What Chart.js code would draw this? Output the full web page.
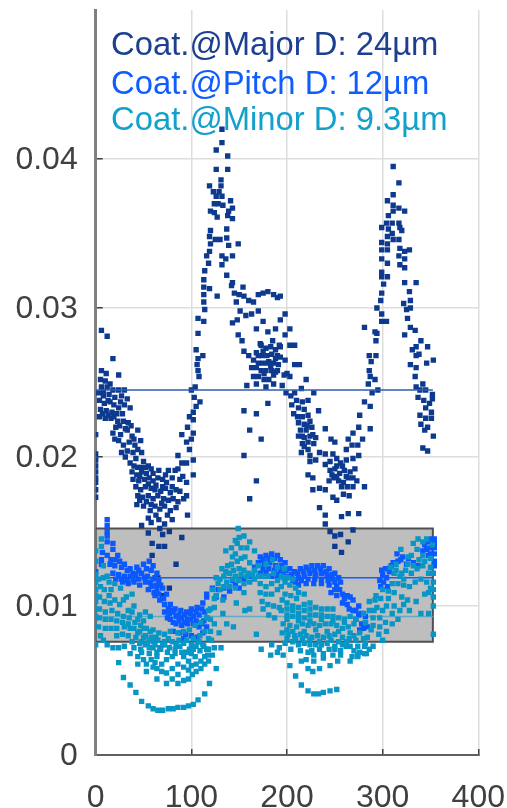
<!DOCTYPE html>
<html>
<head>
<meta charset="utf-8">
<title>Coating scatter</title>
<script src="https://cdn.jsdelivr.net/npm/chart.js@4/dist/chart.umd.min.js"></script>
<style>
    html, body { margin: 0; background: #ffffff; }
    canvas { display: block; filter: blur(0.5px); }
</style>
</head>
<body>
<canvas id="canvas" width="507" height="808"></canvas>
<script>
const xTicks = [0, 100, 200, 300, 400];
const yTicks = [0, 0.01, 0.02, 0.03, 0.04];
const legendLabels = ['Coat.@Major D: 24µm', 'Coat.@Pitch D: 12µm', 'Coat.@Minor D: 9.3µm'];

// band limits and mean levels
const bandEnd = 352.5;
const bandLow = 0.0076;
const bandHigh = 0.0152;
const meanMajor = 0.0245;
const meanPitch = 0.0119;
const meanMinor = 0.0093;

const majorPoints = [
    [0,.0215],[0,.0202],[0,.0198],[0,.0194],[0,.019],[0,.0186],[0,.0183],[0,.0178],[0,.0173],
    [6,.0285],[12,.0281],[18,.0266],[6,.0258],[11,.0256],[24,.0255],[5,.0252],[10,.0251],[15,.0249],[6,.0247],[12,.0247],[18,.0245],[24,.0245],[30,.0245],
    [3,.0243],[8,.0241],[14,.0242],[20,.024],[27,.0241],[33,.0239],[4,.0238],[9,.0236],[15,.0237],[24,.0233],[30,.0235],[36,.0233],
    [5,.0232],[11,.0231],[17,.023],[22,.0229],[28,.0229],[4,.0227],[10,.0226],[16,.0226],[23,.0224],[29,.0224],[34,.0223],
    [18,.0216],[21,.022],[26,.0215],[33,.0218],[38,.0214],[44,.0218],[20,.0212],[29,.0208],[35,.021],[41,.0208],[47,.0211],[48,.0203],
    [27,.0203],[31,.02],[36,.0196],[42,.0199],[44,.0193],[50,.0197],[55,.0194],[38,.019],[43,.0188],[48,.019],[53,.0189],[58,.0192],
    [39,.0185],[45,.0184],[51,.0185],[56,.0186],[60,.0184],[65,.0186],[70,.0185],[76,.0191],[80,.0186],[70,.018],
    [42,.018],[47,.0178],[52,.018],[58,.0179],[63,.0181],[68,.0177],[73,.0179],[78,.0176],[84,.0178],[88,.0177],
    [44,.0174],[49,.0173],[55,.0174],[60,.0172],[65,.0174],[71,.0172],[76,.0171],[81,.0172],[86,.017],[92,.0172],
    [43,.0168],[50,.0167],[57,.0164],[62,.0167],[67,.0165],[72,.0167],[78,.0164],[84,.0166],[95,.0174],[96,.0161],
    [58,.0156],[48,.0154],[66,.0158],[67,.0152],[72,.0155],[77,.015],[80,.0158],[55,.0149],[90,.0146],[59,.0142],[66,.014],[72,.014],[59,.0134],[84,.0128],[65,.0119],[77,.0112],[70,.0107],
    [86,.0201],[90,.0196],[86,.0192],[91,.0187],[95,.0196],[102,.0198],[102,.0188],[88,.0185],[95,.0183],[98,.0205],
    [90,.0215],[95,.021],[100,.0212],[102,.0216],[96,.022],[102,.0225],[98,.0227],[105,.0234],[109,.0237],[102,.023],[103,.024],
    [104,.0247],[100,.0245],[108,.0254],[107,.0258],[106,.0262],[107,.0266],[112,.0268],[105,.0272],[107,.0283],[107,.0293],[113,.0291],
    [114,.0299],[113,.0304],[113,.0309],[113,.0314],[119,.0313],[113,.0319],[114,.0325],[116,.0335],[119,.0338],[120,.0343],[118,.033],
    [119,.0348],[120,.0352],[125,.0346],[130,.0346],[137,.0353],[137,.0347],[139,.0342],[149,.0343],
    [119,.0382],[123,.0378],[126,.0375],[129,.0378],[132,.0375],[124,.037],[128,.037],[133,.0369],[120,.0365],[124,.0364],[127,.0361],[138,.0362],[141,.0372],[143,.0367],[139,.0365],[143,.036],
    [131,.0382],[131,.0386],[126,.0393],[138,.0393],[126,.0406],[138,.0402],[132,.0411],[132,.042],
    [132,.0335],[143,.0335],[136,.0333],[132,.0329],[137,.0322],[143,.0317],[154,.0314],[142,.0315],[127,.0308],[145,.031],
    [150,.0309],[155,.0308],[147,.0304],[151,.0298],[157,.0295],[148,.0292],[143,.029],[149,.0282],[153,.0278],[155,.0271],[160,.0305],[165,.0304],[170,.0309],[175,.031],[180,.0311],[186,.0309],[190,.0307],
    [163,.0296],[170,.0298],[175,.0291],[180,.0284],[188,.0286],[168,.0286],[172,.0276],[160,.0268],[165,.0265],[168,.027],
    [173,.0275],[178,.0273],[183,.0274],[188,.0272],[192,.0275],[174,.0268],[179,.0268],[184,.0269],[190,.0268],[170,.0263],[175,.0263],[181,.0264],[186,.0263],[191,.0262],
    [163,.026],[168,.026],[173,.0258],[178,.0258],[184,.0258],[188,.0257],[165,.0254],[170,.0254],[176,.0252],[181,.0252],[178,.0247],[186,.0249],[168,.0249],[158,.0248],
    [155,.0231],[168,.0229],[161,.0218],[173,.0212],[155,.0201],[168,.0184],[161,.0172],[180,.0236],
    [193,.0308],[198,.0296],[193,.0292],[203,.0286],[198,.0282],[193,.0274],[203,.0275],[208,.0275],[193,.0267],[198,.0265],[208,.0262],[213,.0262],[200,.0256],[203,.0254],[220,.0252],[215,.0246],[228,.0243],[208,.0243],
    [195,.0248],[199,.0243],[204,.0241],[210,.0238],[216,.0237],[222,.0238],[205,.0235],[212,.0233],[218,.0232],[207,.0229],[233,.0231],[211,.0227],[216,.0227],[222,.0228],[212,.0223],[218,.0222],[224,.0224],
    [214,.0218],[220,.0218],[226,.022],[212,.0214],[218,.0213],[224,.0214],[230,.0213],[216,.0209],[222,.021],[228,.0209],[240,.0219],[246,.0212],[250,.021],
    [215,.0203],[222,.0205],[234,.0203],[240,.0202],[248,.0202],[252,.0199],[224,.0197],[230,.0198],[245,.0197],[262,.0198],[258,.0194],
    [222,.0188],[227,.0186],[240,.0195],[245,.0191],[250,.0192],[255,.0189],[260,.0191],[266,.019],[269,.0186],[249,.0186],[254,.0184],[259,.0183],[264,.0186],
    [234,.0179],[227,.0178],[240,.0178],[248,.0173],[252,.0171],[259,.0175],[265,.0174],[269,.018],[281,.018],[234,.0166],[240,.0161],[240,.0155],[257,.016],[264,.0162],[275,.0162],
    [245,.015],[250,.0147],[256,.0148],[269,.0151],[264,.0143],[250,.014],[257,.0136],
    [287,.0234],[276,.0228],[281,.0237],[287,.0219],[275,.022],[269,.0216],[279,.0212],[264,.0212],[274,.0208],[262,.0205],[275,.0201],[269,.0199],[268,.0208],
    [289,.0243],[285,.0249],[287,.0254],[286,.0258],[288,.0264],[292,.0252],[295,.0245],[286,.0268],[293,.0268],[292,.0284],[293,.0278],[281,.0287],[294,.0283],
    [299,.0291],[299,.0296],[304,.0291],[294,.03],[298,.0305],[299,.031],[301,.0316],[299,.0321],[305,.0321],[299,.0324],[305,.033],[299,.0333],[305,.0339],
    [299,.0344],[305,.0343],[299,.0339],[305,.0348],[311,.0346],[306,.0353],[310,.035],[299,.0354],[304,.0357],[310,.0357],[306,.0362],[311,.0365],[305,.0372],[311,.0376],[311,.0369],[317,.0384],[311,.0395],
    [317,.0367],[323,.0365],[317,.0357],[318,.0354],[320,.0352],[317,.0346],[318,.034],[323,.0338],[328,.0339],[323,.0333],[317,.0335],[323,.0327],[318,.0329],
    [323,.0317],[328,.0311],[335,.0317],[329,.0305],[322,.0303],[325,.0299],[329,.03],[326,.0293],[329,.0287],[323,.0282],[334,.0285],[340,.0278],[335,.0274],[347,.0274],
    [331,.0272],[335,.0268],[338,.0269],[346,.0263],[353,.0265],[329,.0262],[335,.026],[334,.0254],[342,.0249],[335,.0247],[339,.0245],[345,.0245],[352,.0242],
    [337,.024],[343,.0238],[349,.0236],[352,.0239],[345,.0233],[351,.023],[339,.0228],[345,.0226],[351,.0226],[340,.0222],[347,.022],[353,.0214],[342,.0206],[347,.0204],[344,.0218],
    [8,.0244],[13,.0238],[19,.0235],[26,.0237],[7,.0229],[13,.0228],[19,.0227],[25,.0221],[31,.0219],[37,.0221],[40,.0212],[24,.0211],[33,.0204],[39,.0203],[44,.0205],
    [40,.0194],[47,.0193],[52,.0193],[60,.0189],[66,.0191],[73,.0188],[83,.0191],[46,.0187],[55,.0182],[62,.0178],[74,.0183],[80,.018],[46,.0171],[53,.017],[58,.0168],[69,.0169],[75,.0161],[63,.0161],[55,.0159],[70,.0148],
    [197,.0255],[190,.0258],[186,.0255],[175,.0271],[180,.0263],[185,.0278],[170,.0268],[176,.0256],[183,.0261],[188,.0266],
    [216,.0214],[221,.0221],[227,.0215],[218,.0207],[224,.0201],[252,.0194],[247,.0188],[256,.0196],[262,.0187],[244,.0184],[252,.0187],[257,.018],[263,.018],[271,.0192],[273,.0184]
];

const pitchPoints = [
    [0,.0123],[0,.0118],[12,.0158],[12,.0154],[12,.015],[12,.0147],[12,.0143],[7,.0136],[18,.0142],[18,.0138],[6,.0131],[12,.0134],[6,.0128],[23,.0134],[25,.013],[16,.0131],
    [20,.0127],[27,.0126],[30,.0128],[36,.0125],[43,.0126],[50,.0128],[56,.013],[60,.0127],[64,.0122],
    [18,.0122],[24,.0121],[30,.012],[36,.012],[42,.0121],[48,.0122],[54,.012],[60,.0118],[66,.0117],
    [28,.0116],[34,.0115],[40,.0116],[46,.0114],[52,.0116],[58,.0113],[64,.0111],[70,.0112],[74,.0108],
    [62,.0107],[67,.0104],[72,.0101],[78,.0101],[72,.0096],[77,.0095],[83,.0098],[89,.0097],[95,.0096],[100,.0098],[106,.0099],[112,.0102],[116,.0106],
    [78,.0091],[84,.0093],[90,.0092],[96,.0091],[102,.0093],[108,.0094],[114,.0096],[84,.0088],[90,.0087],[96,.0088],[102,.0088],[108,.0086],[113,.009],
    [81,.0083],[88,.0082],[94,.0081],[100,.008],[106,.0079],[112,.0082],[116,.0086],[92,.0078],[104,.0078],
    [116,.0108],[122,.0112],[128,.0111],[134,.0112],[140,.011],[146,.0114],[150,.0112],[126,.0106],[134,.0106],[143,.0117],[155,.0118],[160,.012],
    [166,.0126],[172,.0133],[178,.0134],[184,.0135],[190,.0134],[170,.0129],[176,.0128],[182,.0129],[188,.0127],[194,.0127],[198,.0129],[203,.0125],
    [172,.0122],[178,.0122],[184,.012],[190,.0121],[196,.0121],[202,.012],[208,.0123],[214,.0125],[220,.0126],[226,.0127],[232,.0127],[238,.0127],[244,.0125],[250,.0122],[254,.0119],
    [206,.0117],[212,.0119],[218,.012],[224,.0122],[230,.0121],[236,.0122],[242,.012],[248,.0118],[212,.0114],[220,.0115],[228,.0115],[236,.0115],[244,.0114],[252,.0113],[256,.0116],
    [246,.0109],[252,.0107],[258,.0108],[263,.0107],[258,.0102],[263,.0101],[269,.0104],[275,.01],[269,.0097],[278,.0095],[282,.0093],[272,.0091],[278,.0088],[284,.0086],[276,.0084],
    [297,.0117],[300,.0121],[303,.0125],[307,.0123],[298,.0113],[305,.0113],[311,.0129],[316,.013],[321,.0133],[315,.0135],[325,.0128],[332,.0129],[337,.0127],
    [342,.0137],[348,.0143],[354,.0145],[344,.0141],[350,.0139],[354,.0139],[354,.0135],[348,.0134],[354,.0127],[354,.013],
    [15,.0128],[21,.0131],[33,.0124],[39,.0122],[45,.0124],[53,.0125],[58,.0124],[62,.0119],[21,.0118],[27,.0118],[33,.0117],[39,.0118],[45,.0118],[51,.0119],[57,.0116],[63,.0114],[68,.0114],[55,.0111],[61,.0109],[66,.0108],[71,.0105],[76,.0098],[80,.0097],
    [75,.0092],[81,.0096],[87,.0094],[93,.0094],[99,.0095],[105,.0096],[111,.0098],[81,.0089],[87,.0090],[93,.0089],[99,.0091],[105,.009],[111,.0088],[116,.0092],
    [175,.0131],[181,.0132],[187,.0132],[193,.0131],[175,.0125],[181,.0125],[187,.0124],[193,.0124],[199,.0124],[205,.0121],[211,.0122],[217,.0123],[223,.0124],[229,.0124],[235,.0125],[241,.0123],[247,.0121],[209,.0116],[215,.0117],[222,.0118],[229,.0118],[236,.0118],[243,.0117],[250,.0116],
    [250,.0111],[255,.0111],[260,.0105],[266,.0106],[265,.0098],[272,.0097],[275,.0094],[282,.0089],[280,.0085],
    [301,.0116],[299,.0124],[304,.0119],[309,.0127],[319,.0131],[327,.0132],[346,.0138],[351,.0145],[354,.0142],[350,.0135]
];

const minorPoints = [
    [0,.0137],[0,.013],[0,.0121],[0,.0116],[0,.0111],[0,.0107],[0,.0103],[0,.0098],[0,.0093],[0,.0074],
    [6,.0145],[6,.014],[8,.0127],[12,.012],[14,.0116],[5,.0113],[9,.0111],[14,.0107],[20,.0115],[26,.0112],[32,.0106],[38,.0108],
    [4,.0106],[9,.0103],[15,.0102],[20,.0104],[25,.0101],[29,.0104],[34,.0097],[40,.01],[46,.0094],[52,.0096],[57,.0093],
    [4,.0098],[10,.0096],[17,.0097],[23,.0095],[29,.0093],[35,.0092],[41,.0089],[47,.0087],[53,.0085],[60,.0084],[66,.0082],[72,.0081],[78,.0083],[86,.0082],[92,.0083],[98,.0084],[104,.0087],[110,.0089],[116,.0092],
    [4,.0092],[10,.0091],[16,.0091],[22,.009],[28,.0089],[34,.0088],[40,.0085],[46,.0083],[52,.008],[58,.0079],[65,.0077],[72,.0076],[80,.0076],[87,.0077],[95,.0077],[102,.0078],[109,.008],[114,.0083],[120,.0091],
    [5,.008],[8,.0077],[12,.0074],[18,.0072],[24,.0072],[22,.008],[28,.0081],[34,.008],[42,.0079],[48,.0076],[54,.0075],[60,.0072],[68,.0071],[75,.0069],[83,.0068],[90,.0069],[98,.0071],[105,.0073],[112,.0074],[118,.0078],
    [24,.0062],[30,.0073],[36,.0068],[44,.0061],[53,.0056],[64,.0051],[74,.0048],[86,.0048],[97,.0051],[105,.0056],[114,.0061],
    [29,.0052],[36,.0047],[42,.0042],[48,.0036],[55,.0033],[60,.0031],[65,.003],[70,.003],[76,.0031],[81,.0031],[86,.0032],[92,.0032],[97,.0033],[102,.0034],[107,.0037],[114,.0041],[119,.0048],[126,.0058],
    [44,.0066],[53,.0061],[64,.0058],[74,.0055],[86,.0054],[97,.0057],[105,.0061],[114,.0066],[116,.0071],
    [40,.0072],[47,.0071],[56,.0068],[64,.0066],[74,.0064],[86,.0061],[97,.0063],[104,.0066],[109,.007],[38,.0076],[52,.0074],[67,.0072],[77,.0072],[88,.0073],[102,.0071],[113,.0073],
    [121,.0077],[124,.0072],[122,.0067],[118,.0063],[124,.0099],[124,.0105],[129,.0082],[133,.0095],[137,.0088],[131,.0072],[144,.0086],[147,.0102],[155,.0109],[161,.0098],[156,.0097],[168,.0081],[173,.0071],[184,.0074],[183,.0067],[190,.0069],
    [120,.0098],[122,.0111],[130,.0118],[136,.0123],[143,.0133],[149,.0152],[146,.0144],[155,.0147],[161,.0143],[136,.0137],[152,.0139],[142,.0128],[148,.013],[156,.0133],[161,.0129],[166,.0137],
    [126,.0119],[132,.0125],[138,.0127],[144,.0124],[150,.0125],[155,.0124],[160,.0122],[166,.0124],[170,.0127],[130,.0111],[137,.0116],[143,.0118],[149,.0117],[155,.0115],[161,.0116],[166,.0118],[170,.012],
    [172,.0115],[178,.0113],[184,.0115],[190,.0117],[172,.0109],[178,.0108],[184,.0108],[190,.0111],[174,.0103],[180,.0101],[186,.01],[175,.0098],[181,.0094],[187,.0092],[192,.0099],[190,.0126],[185,.0131],[178,.0128],
    [194,.012],[198,.0116],[203,.0114],[209,.0112],[194,.0113],[198,.0108],[204,.0107],[210,.0105],[195,.0104],[200,.0102],[206,.01],[212,.0099],[218,.0101],[224,.0102],
    [194,.0097],[200,.0094],[206,.0093],[212,.0092],[218,.0092],[224,.0094],[230,.0094],[236,.0094],[242,.0093],[248,.0093],[254,.0092],[260,.0091],[266,.0093],[272,.0091],[280,.0095],
    [196,.0088],[203,.0087],[210,.0086],[216,.0088],[222,.0087],[228,.0088],[234,.0087],[240,.0088],[246,.0088],[252,.0087],[258,.0085],[264,.0086],
    [195,.0082],[201,.0081],[208,.008],[214,.0081],[220,.008],[226,.0079],[232,.008],[238,.0079],[244,.008],[250,.0081],[258,.0079],[265,.0078],[270,.008],[276,.0082],
    [198,.0075],[206,.0076],[212,.0074],[218,.0075],[224,.0074],[230,.0074],[236,.0074],[242,.0075],[250,.0073],[258,.0074],[266,.0073],[274,.0073],[282,.0075],[290,.0073],
    [192,.0072],[196,.0067],[203,.006],[215,.0063],[209,.0053],[215,.0047],[222,.0043],[228,.0041],[233,.0041],[238,.0042],[245,.0043],[252,.0044],
    [222,.0069],[228,.0067],[238,.0068],[250,.0071],[262,.0073],[276,.0069],[286,.0071],[220,.0064],[228,.0063],[238,.0065],[248,.0067],[256,.0067],[268,.0066],[274,.0067],[283,.0068],
    [222,.0058],[227,.0056],[234,.0058],[245,.006],[253,.0063],[266,.0063],[274,.0066],[281,.0068],
    [286,.0103],[293,.0107],[300,.0111],[294,.0099],[300,.0097],[306,.0105],[312,.01],[318,.0097],[297,.0092],[303,.0089],[310,.0088],[297,.0086],[304,.0083],[296,.0081],[300,.0077],[290,.0092],[288,.0084],
    [308,.0126],[314,.0128],[319,.0138],[327,.0133],[332,.0142],[337,.0145],[346,.0145],[352,.0141],[342,.0134],[350,.0132],
    [312,.0122],[318,.012],[324,.0124],[330,.0122],[336,.0125],[342,.0127],[348,.0122],[353,.0122],[310,.0115],[316,.0115],[322,.0114],[328,.0113],[334,.0116],[353,.0116],
    [306,.011],[312,.0109],[320,.0106],[326,.0104],[335,.0103],[344,.0108],[350,.0112],[353,.0111],[353,.0106],[353,.01],[340,.0095],[348,.0109],[353,.0081],[348,.0095],
    [48,.0069],[58,.0064],[69,.0061],[80,.0058],[92,.0059],[100,.006],[110,.0063],[46,.0075],[60,.0076],[72,.0074],[83,.0071],[95,.0069],[108,.0076],[117,.0067],
    [50,.0064],[60,.0059],[69,.0056],[80,.0051],[92,.005],[101,.0054],[110,.0058],[56,.0072],[64,.0069],[80,.0066],[92,.0066],[100,.0068],[118,.0071],[62,.0062],
    [50,.0079],[56,.0077],[62,.0074],[70,.0074],[76,.0078],[84,.0074],[92,.0075],[100,.0074],[107,.0076],[120,.0083],[124,.0088],[118,.0097],
    [16,.0085],[22,.0085],[30,.0086],[36,.0085],[44,.0082],[50,.0085],[57,.0083],[63,.0079],[3,.0086],[10,.0085],[38,.0096],[44,.0091],[50,.009],[16,.0111],[3,.0118],[8,.0119],
    [140,.0122],[146,.012],[152,.0121],[158,.012],[164,.0121],[134,.012],[128,.0115],[134,.0113],[140,.0113],[146,.0112],[126,.0107],[133,.0104],[148,.0142],[150,.0146],[142,.0139],[158,.0139],[146,.0135],[152,.0132],
    [196,.0119],[201,.0119],[206,.0118],[212,.0109],[218,.0108],[197,.0125],[174,.012],[180,.012],[186,.0122],[200,.0098],[206,.0097],[212,.0095],[218,.0097],[224,.0098],[230,.0099],[236,.0098],[242,.0098],[248,.0098],
    [200,.0091],[212,.009],[224,.009],[236,.0091],[248,.009],[260,.0089],[270,.0088],[200,.0084],[206,.0083],[218,.0083],[230,.0084],[242,.0083],[254,.0083],[266,.0082],
    [200,.0078],[209,.0078],[216,.0078],[224,.0077],[234,.0076],[246,.0077],[254,.0076],[262,.0076],[272,.0077],[280,.0078],[204,.0071],[214,.007],[226,.007],[234,.0071],[244,.0071],[256,.007],[270,.007],[281,.0073],
    [292,.0104],[298,.0105],[304,.01],[310,.0095],[316,.0091],[322,.0101],[328,.0097],[291,.0097],[286,.0097],[282,.0089],[290,.0087],[284,.0079],
    [314,.0124],[320,.0122],[326,.0128],[332,.0127],[338,.0131],[344,.013],[350,.0126],[330,.0134],[336,.0138],[342,.0143],[322,.0118],[340,.0118],[346,.0116]
];

// stack: lower order ends up on top
const markerRadius = 3.8;

function scatterSet(points, color, order) {
    return {
        data: points.map(p => ({ x: p[0], y: p[1] })),
        backgroundColor: color,
        borderColor: color,
        borderWidth: 0,
        pointStyle: 'rect',
        pointRadius: markerRadius,
        showLine: false,
        order: order,
    };
}

function meanSet(level, color, order) {
    return {
        data: [{ x: 0, y: level }, { x: bandEnd, y: level }],
        borderColor: color,
        borderWidth: 1.5,
        pointRadius: 0,
        showLine: true,
        order: order,
    };
}

const legendText = {
    id: 'legendText',
    afterDraw(chart) {
        const ctx = chart.ctx;
        const colors = ['#1d3f90', '#0f5cff', '#12a0cc'];
        const baselines = [55, 94, 130];
        ctx.save();
        ctx.font = '32.8px "Liberation Sans"';
        ctx.textAlign = 'left';
        legendLabels.forEach((label, i) => {
            ctx.fillStyle = colors[i];
            ctx.fillText(label, 111, baselines[i]);
        });
        ctx.restore();
    },
};

new Chart(document.getElementById('canvas').getContext('2d'), {
    type: 'scatter',
    data: {
        datasets: [
            meanSet(meanMinor, '#62a9c6', 7),
            scatterSet(minorPoints, '#0896c6', 3),
            meanSet(meanPitch, '#1060ff', 5),
            scatterSet(pitchPoints, '#0a58ff', 4),
            meanSet(meanMajor, '#2f5cab', 1),
            scatterSet(majorPoints, '#0d3a8e', 6),
            {
                data: [
                    { x: 0, y: bandLow }, { x: 0, y: bandHigh },
                    { x: bandEnd, y: bandHigh }, { x: bandEnd, y: bandLow },
                    { x: 0, y: bandLow },
                ],
                showLine: true,
                fill: 'shape',
                backgroundColor: '#bebebe',
                borderColor: '#505050',
                borderWidth: 2,
                pointRadius: 0,
                order: 9,
            },
        ],
    },
    options: {
        responsive: false,
        animation: false,
        layout: { padding: { top: 10, right: 28.7, bottom: 0, left: 0 } },
        plugins: { legend: { display: false }, tooltip: { enabled: false } },
        scales: {
            x: {
                type: 'linear',
                min: 0,
                max: 400,
                afterBuildTicks: scale => { scale.ticks = xTicks.map(v => ({ value: v })); },
                afterFit: scale => {
                    scale.height = 53;
                    scale.paddingLeft = 0;
                    scale.paddingRight = 0;
                },
                grid: { color: '#dddddd', lineWidth: 1.5, tickColor: '#404040', tickLength: -6 },
                border: { color: '#606060', width: 2 },
                ticks: {
                    color: '#404040',
                    padding: 30,
                    maxRotation: 0,
                    font: { family: 'Liberation Sans', size: 32 },
                },
            },
            y: {
                type: 'linear',
                min: 0,
                max: 0.05,
                afterBuildTicks: scale => { scale.ticks = yTicks.map(v => ({ value: v })); },
                afterFit: scale => {
                    scale.width = 95.7;
                    scale.paddingTop = 0;
                    scale.paddingBottom = 0;
                },
                grid: { color: '#dddddd', lineWidth: 1.5, tickColor: '#404040', tickLength: -7 },
                border: { color: '#808080', width: 3 },
                ticks: {
                    color: '#404040',
                    padding: 25,
                    labelOffset: 1.5,
                    font: { family: 'Liberation Sans', size: 32 },
                },
            },
        },
    },
    plugins: [legendText],
});
</script>
</body>
</html>
